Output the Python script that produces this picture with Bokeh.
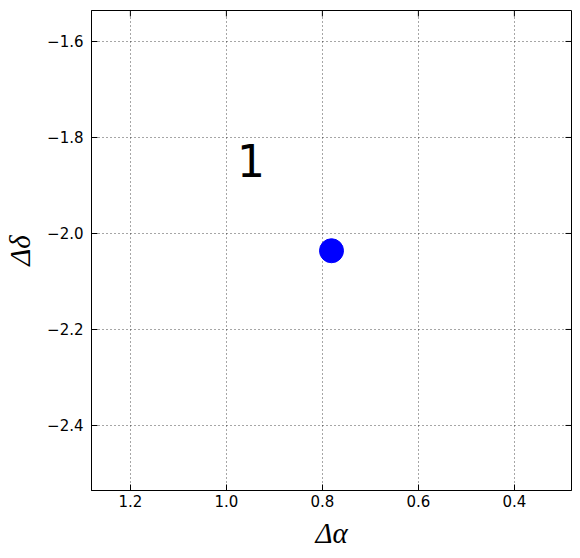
import math
from bokeh.plotting import figure
from bokeh.models import Range1d, CustomJSTickFormatter, FixedTicker, ColumnDataSource
from bokeh.core.properties import value
from bokeh.embed import file_html
from bokeh.resources import INLINE

# data
pt_x = [0.781]
pt_y = [-2.036]
label_x = [0.978]
label_y = [-1.849]
label_text = ["1"]
x_ticks = [1.2, 1.0, 0.8, 0.6, 0.4]
y_ticks = [-2.4, -2.2, -2.0, -1.8, -1.6]

x0, x1 = 1.281, 0.281
y0, y1 = -2.5355, -1.5355

p = figure(width=580, height=558, output_backend="svg", toolbar_location=None,
           x_range=Range1d(x0, x1), y_range=Range1d(y0, y1),
           min_border_left=91, min_border_right=9, min_border_top=10, min_border_bottom=68)
p.background_fill_color = "white"
p.border_fill_color = "white"
p.outline_line_color = "black"
p.outline_line_width = 1
p.outline_line_alpha = 1

fmt = CustomJSTickFormatter(code="return tick.toFixed(1).replace('-', '\u2212');")

for ax, ticks in ((p.xaxis[0], x_ticks), (p.yaxis[0], y_ticks)):
    ax.ticker = FixedTicker(ticks=ticks)
    ax.formatter = fmt
    ax.major_tick_in = 6
    ax.major_tick_out = 0
    ax.minor_tick_in = 0
    ax.minor_tick_out = 0
    ax.major_tick_line_color = "black"
    ax.axis_line_color = "black"
    ax.major_label_text_font = "DejaVu Sans"
    ax.major_label_text_font_size = "15px"
    ax.major_label_text_color = "black"
    ax.axis_label_text_font = "Liberation Serif"
    ax.axis_label_text_font_style = "italic"
    ax.axis_label_text_font_size = "29px"
    ax.axis_label_text_color = "black"

p.xaxis.axis_label = "Δα"
p.yaxis.axis_label = "Δδ"
p.xaxis.major_label_standoff = 4
p.yaxis.major_label_standoff = 8
p.xaxis.axis_label_standoff = 7
p.yaxis.axis_label_standoff = 8

for g, ticks in ((p.xgrid[0], x_ticks), (p.ygrid[0], y_ticks)):
    g.ticker = FixedTicker(ticks=ticks)
    g.grid_line_color = "black"
    g.grid_line_alpha = 0.7
    g.grid_line_dash = "1 3"
    g.grid_line_width = 1

# mirrored inward ticks on top and right edges (clipped to frame)
p.scatter(x=x_ticks, y=[y1] * len(x_ticks), marker="dash", size=12,
          angle=math.pi / 2, line_color="black", line_width=1)
p.scatter(x=[x1] * len(y_ticks), y=y_ticks, marker="dash", size=12,
          line_color="black", line_width=1)

src = ColumnDataSource(dict(x=pt_x, y=pt_y))
p.scatter("x", "y", source=src, size=24, fill_color="blue", line_color="blue")

p.text(x=label_x, y=label_y, text=label_text, text_font=value("DejaVu Sans"),
       text_font_size="44px", text_color="black", text_align="left",
       text_baseline="alphabetic")

open("out.html", "w").write(file_html(p, INLINE))
